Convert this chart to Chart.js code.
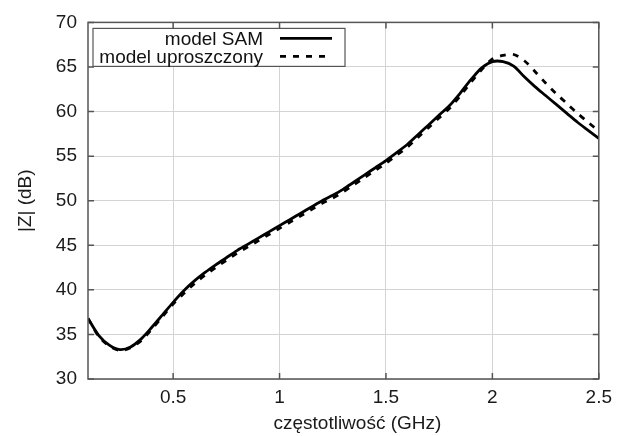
<!DOCTYPE html>
<html>
<head>
<meta charset="utf-8">
<script src="https://cdn.jsdelivr.net/npm/chart.js@4"></script>
<style>
  html, body { margin: 0; padding: 0; background: #fff; }
  #wrap { width: 619px; height: 436px; }
</style>
</head>
<body>
<div id="wrap"><canvas id="chart" width="619" height="436"></canvas></div>
<script>
// Frequency points (GHz)
const freq = [
  0.10, 0.15, 0.20, 0.25, 0.30, 0.35, 0.40, 0.45, 0.50, 0.55,
  0.60, 0.65, 0.70, 0.75, 0.80, 0.85, 0.90, 0.95, 1.00, 1.05,
  1.10, 1.15, 1.20, 1.25, 1.30, 1.35, 1.40, 1.45, 1.50, 1.55,
  1.60, 1.65, 1.70, 1.75, 1.80, 1.85, 1.90, 1.95, 2.00, 2.05,
  2.10, 2.15, 2.20, 2.25, 2.30, 2.35, 2.40, 2.45, 2.50
];

// |Z| (dB), model SAM
const samModel = [
  36.8, 34.9, 33.8, 33.3, 33.6, 34.5, 35.8, 37.2, 38.6, 39.9,
  41.0, 41.95, 42.8, 43.6, 44.4, 45.1, 45.8, 46.5, 47.2, 47.9,
  48.6, 49.3, 50.0, 50.6, 51.3, 52.1, 52.9, 53.7, 54.5, 55.4,
  56.3, 57.4, 58.5, 59.6, 60.7, 62.1, 63.6, 64.9, 65.6, 65.6,
  65.1, 63.9, 62.8, 61.8, 60.8, 59.8, 58.8, 57.9, 57.0
];

// |Z| (dB), model uproszczony
const simpleModel = [
  36.8, 34.8, 33.7, 33.2, 33.5, 34.3, 35.6, 37.0, 38.4, 39.6,
  40.7, 41.65, 42.5, 43.3, 44.1, 44.8, 45.5, 46.2, 46.9, 47.6,
  48.3, 49.0, 49.7, 50.3, 51.0, 51.8, 52.6, 53.4, 54.2, 55.1,
  56.0, 57.1, 58.2, 59.3, 60.4, 61.8, 63.3, 64.7, 65.9, 66.3,
  66.4, 65.7, 64.5, 63.2, 62.0, 60.9, 59.8, 58.8, 57.8
];

const xTicks = [0.5, 1, 1.5, 2, 2.5];
const yTicks = [30, 35, 40, 45, 50, 55, 60, 65, 70];
const seriesLabels = ['model SAM', 'model uproszczony'];
const xTitle = 'częstotliwość (GHz)';

const FONT = '"Liberation Sans", Arial, Helvetica, sans-serif';

// Frame on all four sides with inward tick marks (gnuplot look), plus x title
const framePlugin = {
  id: 'frame',
  afterDraw(chart) {
    const { ctx, chartArea: a, scales } = chart;
    ctx.save();
    ctx.strokeStyle = '#555';
    ctx.lineWidth = 1.5;
    ctx.beginPath();
    xTicks.forEach(v => {
      const px = scales.x.getPixelForValue(v);
      ctx.moveTo(px, a.bottom); ctx.lineTo(px, a.bottom - 6);
      ctx.moveTo(px, a.top); ctx.lineTo(px, a.top + 6);
    });
    yTicks.forEach(v => {
      const py = scales.y.getPixelForValue(v);
      ctx.moveTo(a.left, py); ctx.lineTo(a.left + 6, py);
      ctx.moveTo(a.right, py); ctx.lineTo(a.right - 6, py);
    });
    ctx.stroke();
    ctx.strokeRect(a.left, a.top, a.right - a.left, a.bottom - a.top);

    // x axis title sits a bit right of centre in the original
    ctx.font = '19px ' + FONT;
    ctx.fillStyle = '#1a1a1a';
    ctx.textAlign = 'center';
    ctx.textBaseline = 'middle';
    ctx.fillText(xTitle, (a.left + a.right) / 2 + 14, a.bottom + 45);
    ctx.restore();
  }
};

// Boxed legend in the upper left corner, text right-aligned before the sample line
const legendPlugin = {
  id: 'boxLegend',
  afterDraw(chart) {
    const { ctx, chartArea: a } = chart;
    const x0 = a.left + 5, y0 = a.top + 6, w = 252, h = 38;
    ctx.save();
    ctx.fillStyle = '#fff';
    ctx.fillRect(x0, y0, w, h);
    ctx.strokeStyle = '#555';
    ctx.lineWidth = 1.2;
    ctx.strokeRect(x0, y0, w, h);
    ctx.font = '19px ' + FONT;
    ctx.textAlign = 'right';
    ctx.textBaseline = 'middle';
    chart.data.datasets.forEach((ds, i) => {
      const cy = y0 + 10 + i * 18;
      ctx.fillStyle = '#111';
      ctx.fillText(ds.label, x0 + 170, cy + 1);
      ctx.strokeStyle = '#000';
      ctx.lineWidth = ds.borderWidth;
      ctx.setLineDash(ds.borderDash || []);
      ctx.beginPath();
      ctx.moveTo(x0 + 187, cy);
      ctx.lineTo(x0 + 239, cy);
      ctx.stroke();
    });
    ctx.restore();
  }
};

const toPoints = ys => freq.map((f, i) => ({ x: f, y: ys[i] }));

new Chart(document.getElementById('chart'), {
  type: 'line',
  data: {
    datasets: [
      {
        label: seriesLabels[0],
        data: toPoints(samModel),
        borderColor: '#000',
        borderWidth: 2.8,
        pointRadius: 0,
        tension: 0.3,
        fill: false
      },
      {
        label: seriesLabels[1],
        data: toPoints(simpleModel),
        borderColor: '#000',
        borderWidth: 2.8,
        borderDash: [6, 7],
        pointRadius: 0,
        tension: 0.3,
        fill: false
      }
    ]
  },
  options: {
    responsive: false,
    animation: false,
    layout: { padding: { top: 19, right: 19, left: 0, bottom: 0 } },
    plugins: { legend: { display: false }, tooltip: { enabled: false } },
    scales: {
      x: {
        type: 'linear',
        min: 0.1,
        max: 2.5,
        afterBuildTicks: s => { s.ticks = xTicks.map(v => ({ value: v })); },
        afterFit: s => { s.height = 57; },
        grid: { color: '#d4d4d4', borderDash: [2, 2], drawTicks: false, lineWidth: 1 },
        border: { display: false },
        ticks: {
          padding: 7,
          color: '#1a1a1a',
          font: { family: FONT, size: 19 },
          maxRotation: 0,
          callback: v => String(v)
        }
      },
      y: {
        min: 30,
        max: 70,
        afterBuildTicks: s => { s.ticks = yTicks.map(v => ({ value: v })); },
        afterFit: s => { s.width = 88; },
        grid: { color: '#d4d4d4', borderDash: [2, 2], drawTicks: false, lineWidth: 1 },
        border: { display: false },
        ticks: {
          padding: 11,
          color: '#1a1a1a',
          font: { family: FONT, size: 19 }
        },
        title: {
          display: true,
          text: '|Z| (dB)',
          color: '#1a1a1a',
          font: { family: FONT, size: 19 },
          padding: { top: 14, bottom: 0 }
        }
      }
    }
  },
  plugins: [framePlugin, legendPlugin]
});
</script>
</body>
</html>
